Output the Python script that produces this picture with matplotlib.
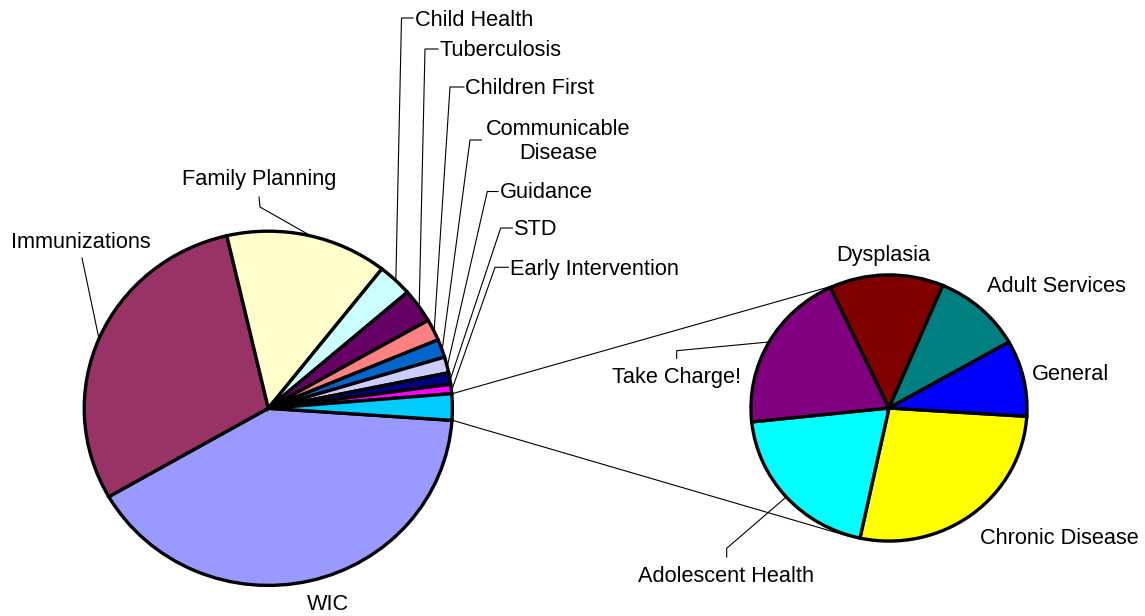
import numpy as np
import matplotlib
matplotlib.use("Agg")
import matplotlib.pyplot as plt

plt.rcParams['font.family'] = ['Liberation Sans', 'DejaVu Sans']

# main pie (percent of total)
main_labels = ['WIC', 'Immunizations', 'Family Planning', 'Child Health', 'Tuberculosis',
               'Children First', 'Communicable\nDisease', 'Guidance', 'STD', 'Early Intervention']
main_values = [40.6, 29.7, 14.2, 3.05, 3.1, 1.95, 1.65, 1.45, 1.05, 0.85]
main_colors = ['#9999FF', '#993366', '#FFFFCC', '#CCFFFF', '#660066',
               '#FF8080', '#0066CC', '#CCCCFF', '#000080', '#FF00FF']
other_color = '#00CCFF'

# second pie (split out of the main pie)
sub_labels = ['Chronic Disease', 'Adolescent Health', 'Take Charge!', 'Dysplasia',
              'Adult Services', 'General']
sub_values = [0.657, 0.479, 0.473, 0.32, 0.249, 0.222]
sub_colors = ['#FFFF00', '#00FFFF', '#800080', '#800000', '#008080', '#0000FF']

W, H = 1145, 616
fig = plt.figure(figsize=(W / 100, H / 100), dpi=100)

# pie geometry in pixels: centre x, centre y (from top), radius x, radius y
L = dict(cx=268.3, cy=408.3, rx=185, ry=178, start=-3.9)
R = dict(cx=889, cy=408, rx=139, ry=134, start=-3.6)


def pie_axes(g):
    return fig.add_axes([(g['cx'] - g['rx']) / W, (H - g['cy'] - g['ry']) / H,
                         2 * g['rx'] / W, 2 * g['ry'] / H], zorder=2)


def edge(g, ang):
    a = np.radians(ang)
    return g['cx'] + g['rx'] * np.cos(a), g['cy'] - g['ry'] * np.sin(a)


def mid_angles(vals, start):
    v = np.asarray(vals, float)
    cum = np.concatenate([[0], np.cumsum(v)]) / v.sum() * 360
    return start - (cum[:-1] + cum[1:]) / 2, start - cum


wedge_kw = dict(linewidth=2.4, edgecolor='black')

left_vals = main_values + [sum(sub_values)]
axl = pie_axes(L)
axl.pie(left_vals, colors=main_colors + [other_color], startangle=L['start'],
        counterclock=False, wedgeprops=wedge_kw)
axl.set_aspect('auto')
axl.set_xlim(-1.005, 1.005)
axl.set_ylim(-1.005, 1.005)

axr = pie_axes(R)
axr.pie(sub_values, colors=sub_colors, startangle=R['start'],
        counterclock=False, wedgeprops=wedge_kw)
axr.set_aspect('auto')
axr.set_xlim(-1.007, 1.007)
axr.set_ylim(-1.007, 1.007)

# overlay in pixel coordinates for labels, leaders and connectors
ov = fig.add_axes([0, 0, 1, 1], zorder=1)
ov.set_xlim(0, W)
ov.set_ylim(H, 0)
ov.axis('off')

fs = 15.7
dy = 2.0  # text box centre sits a little above the glyph centre
line_kw = dict(color='black', linewidth=0.8)

lmid, lbounds = mid_angles(left_vals, L['start'])
rmid, rbounds = mid_angles(sub_values, R['start'])

# label position (x, y, ha) and leader points before the slice edge
main_pos = {
    'WIC': (328, 603, 'center', []),
    'Immunizations': (81, 241, 'center', [(82, 258)]),
    'Family Planning': (259.5, 178, 'center', [(259, 197), (260, 207)]),
    'Child Health': (415, 18, 'left', [(413, 18), (401.5, 18)]),
    'Tuberculosis': (440, 49, 'left', [(438, 49), (425, 49)]),
    'Children First': (465, 86.5, 'left', [(464, 87), (450, 87)]),
    'Communicable\nDisease': (558, 139.5, 'center', [(481.5, 140), (470, 140)]),
    'Guidance': (500, 191, 'left', [(498, 191.5), (487.3, 191.5)]),
    'STD': (513.5, 227.5, 'left', [(512.5, 228), (500.7, 228)]),
    'Early Intervention': (510, 267, 'left', [(508.3, 267.3), (495, 267.3)]),
}
sub_pos = {
    'Chronic Disease': (1059, 536, 'center', []),
    'Adolescent Health': (726, 575, 'center', [(726.7, 557), (726.7, 548.3)]),
    'Take Charge!': (676.5, 376, 'center', [(676.7, 358.5), (676.7, 350.7)]),
    'Dysplasia': (883, 253, 'center', []),
    'Adult Services': (1056.5, 285, 'center', []),
    'General': (1070.5, 372.5, 'center', []),
}

for labels, mids, g, pos in [(main_labels, lmid, L, main_pos), (sub_labels, rmid, R, sub_pos)]:
    for lab, ang in zip(labels, mids):
        x, y, ha, pts = pos[lab]
        ov.text(x, y + dy, lab, fontsize=fs, ha=ha, va='center', multialignment='center',
                linespacing=1.15)
        if pts:
            ex, ey = edge(g, ang)
            xs = [p[0] for p in pts] + [ex]
            ys = [p[1] for p in pts] + [ey]
            ov.plot(xs, ys, **line_kw)

# connector lines between the split slice and the second pie
up_l = edge(L, lbounds[-2])
lo_l = edge(L, lbounds[-1])
up_r = edge(R, rbounds[3])
lo_r = edge(R, 254)
ov.plot([up_l[0], up_r[0]], [up_l[1], up_r[1]], **line_kw)
ov.plot([lo_l[0], lo_r[0]], [lo_l[1], lo_r[1]], **line_kw)

fig.savefig('out.png', dpi=100)
